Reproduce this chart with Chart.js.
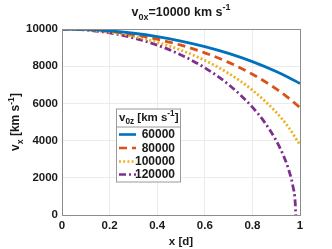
<!DOCTYPE html>
<html>
<head>
<meta charset="utf-8">
<script src="https://cdn.jsdelivr.net/npm/chart.js@4/dist/chart.umd.min.js"></script>
<style>
  html, body { margin: 0; padding: 0; background: #fff; }
  #wrap { width: 332px; height: 249px; }
</style>
</head>
<body>
<div id="wrap"><canvas id="chart" width="332" height="249"></canvas></div>
<script>
// values
var xVals = [0, 0.1, 0.2, 0.3, 0.4, 0.5, 0.6, 0.7, 0.8, 0.9, 0.95, 1];
var v60000 = [10000, 9975, 9899, 9772, 9592, 9354, 9055, 8689, 8246, 7714, 7408, 7071];
var v80000 = [10000, 9967, 9866, 9695, 9451, 9129, 8718, 8206, 7572, 6782, 6311, 5774];
var v100000 = [10000, 9957, 9827, 9606, 9288, 8863, 8313, 7613, 6715, 5523, 4751, 3770];
var xPurple = [0, 0.1, 0.2, 0.3, 0.4, 0.5, 0.6, 0.7, 0.8, 0.85, 0.9, 0.93, 0.95, 0.97, 0.98, 0.982];
var v120000 = [10000, 9948, 9790, 9522, 9133, 8607, 7916, 7014, 5799, 5008, 4000, 3210, 2532, 1560, 640, 0];

var seriesNames = ['60000', '80000', '100000', '120000'];
var xTicks = [0, 0.2, 0.4, 0.6, 0.8, 1];
var yTicks = [0, 2000, 4000, 6000, 8000, 10000];

var colors = ['#0072BD', '#D95319', '#EDB120', '#7E2F8E'];
var dashes = [[], [8, 5], [2, 2.2], [7, 3, 2, 3]];
var FONT = '"Liberation Sans", Arial, sans-serif';

function pts(xs, ys) {
	var out = [];
	for (var i = 0; i < xs.length; i++) out.push({ x: xs[i], y: ys[i] });
	return out;
}

var allData = [pts(xVals, v60000), pts(xVals, v80000), pts(xVals, v100000), pts(xPurple, v120000)];

var datasets = [];
for (var i = 0; i < 4; i++) {
	datasets.push({
		label: seriesNames[i],
		data: allData[i],
		borderColor: colors[i],
		backgroundColor: colors[i],
		borderWidth: 2.8,
		borderDash: dashes[i],
		pointRadius: 0,
		cubicInterpolationMode: 'monotone',
		fill: false
	});
}

// draw text made of pieces: [text, 'n' | 'sub' | 'sup']
function richWidth(ctx, parts, size) {
	var w = 0;
	parts.forEach(function(p) {
		ctx.font = 'bold ' + (p[1] == 'n' ? size : size * 0.72) + 'px ' + FONT;
		w += ctx.measureText(p[0]).width;
	});
	return w;
}
function richText(ctx, parts, x, y, size) {
	var cx = x;
	parts.forEach(function(p) {
		var s = p[1] == 'n' ? size : size * 0.72;
		var dy = p[1] == 'sub' ? size * 0.3 : (p[1] == 'sup' ? -size * 0.45 : 0);
		ctx.font = 'bold ' + s + 'px ' + FONT;
		ctx.fillText(p[0], cx, y + dy);
		cx += ctx.measureText(p[0]).width;
	});
}

var decor = {
	id: 'decor',
	afterDraw: function(chart) {
		var ctx = chart.ctx;
		var a = chart.chartArea;
		ctx.save();
		ctx.fillStyle = '#1a1a1a';
		ctx.textBaseline = 'alphabetic';

		// box round the axes
		ctx.strokeStyle = '#8c8c8c';
		ctx.lineWidth = 1;
		ctx.setLineDash([]);
		ctx.strokeRect(Math.round(a.left) + 0.5, Math.round(a.top) + 0.5,
			Math.round(a.right - a.left), Math.round(a.bottom - a.top));

		// title
		var tParts = [['v', 'n'], ['0x', 'sub'], ['=10000 km s', 'n'], ['-1', 'sup']];
		var tw = richWidth(ctx, tParts, 12.5);
		richText(ctx, tParts, (a.left + a.right) / 2 - tw / 2, 16, 12.5);

		// y label
		var yParts = [['v', 'n'], ['x', 'sub'], [' [km s', 'n'], ['-1', 'sup'], [']', 'n']];
		var yw = richWidth(ctx, yParts, 12);
		ctx.save();
		ctx.translate(19, (a.top + a.bottom) / 2);
		ctx.rotate(-Math.PI / 2);
		richText(ctx, yParts, -yw / 2, 0, 12);
		ctx.restore();

		// legend
		var lx = 116, ly = 108.5, lw = 64, lh = 73;
		ctx.fillStyle = '#fff';
		ctx.fillRect(lx, ly, lw, lh);
		ctx.strokeStyle = '#9a9a9a';
		ctx.strokeRect(lx + 0.5, ly + 0.5, lw, lh);
		ctx.beginPath();
		ctx.moveTo(lx, ly + 18.5);
		ctx.lineTo(lx + lw, ly + 18.5);
		ctx.stroke();
		ctx.fillStyle = '#1a1a1a';
		var lParts = [['v', 'n'], ['0z', 'sub'], [' [km s', 'n'], ['-1', 'sup'], [']', 'n']];
		richText(ctx, lParts, lx + 3, ly + 12.5, 11.5);
		var rows = [134.5, 148, 161.5, 174.5];
		for (var i = 0; i < 4; i++) {
			ctx.strokeStyle = colors[i];
			ctx.lineWidth = 2.6;
			ctx.setLineDash(dashes[i]);
			ctx.beginPath();
			ctx.moveTo(lx + 3, rows[i]);
			ctx.lineTo(lx + 20, rows[i]);
			ctx.stroke();
			ctx.setLineDash([]);
			ctx.fillStyle = '#1a1a1a';
			ctx.font = 'bold 12px ' + FONT;
			ctx.textAlign = 'right';
			ctx.textBaseline = 'middle';
			ctx.fillText(seriesNames[i], lx + lw - 5, rows[i] + 0.5);
			ctx.textAlign = 'left';
			ctx.textBaseline = 'alphabetic';
		}
		ctx.restore();
	}
};

var ctx = document.getElementById('chart');
var chart = new Chart(ctx, {
	type: 'line',
	data: { datasets: datasets },
	options: {
		responsive: false,
		animation: false,
		layout: { padding: { top: 29, right: 32, left: 0, bottom: 0 } },
		plugins: { legend: { display: false }, tooltip: { enabled: false } },
		scales: {
			x: {
				type: 'linear',
				min: 0,
				max: 1,
				afterBuildTicks: function(s) { s.ticks = xTicks.map(function(v) { return { value: v }; }); },
				ticks: {
					color: '#1a1a1a',
					font: { family: FONT, size: 11.5, weight: 'bold' },
					padding: 4,
					maxRotation: 0,
					callback: function(v) { return String(v); }
				},
				grid: { color: '#ebebeb', drawTicks: false },
				border: { display: false },
				title: {
					display: true,
					text: 'x [d]',
					color: '#1a1a1a',
					font: { family: FONT, size: 11.5, weight: 'bold' },
					padding: { top: 2, bottom: 0 }
				},
				afterFit: function(s) { s.height = 34; }
			},
			y: {
				min: 0,
				max: 10000,
				afterBuildTicks: function(s) { s.ticks = yTicks.map(function(v) { return { value: v }; }); },
				ticks: {
					color: '#1a1a1a',
					font: { family: FONT, size: 11.5, weight: 'bold' },
					padding: 4,
					callback: function(v) { return String(v); }
				},
				grid: { color: '#ebebeb', drawTicks: false },
				border: { display: false },
				afterFit: function(s) { s.width = 62; }
			}
		}
	},
	plugins: [decor]
});
</script>
</body>
</html>
